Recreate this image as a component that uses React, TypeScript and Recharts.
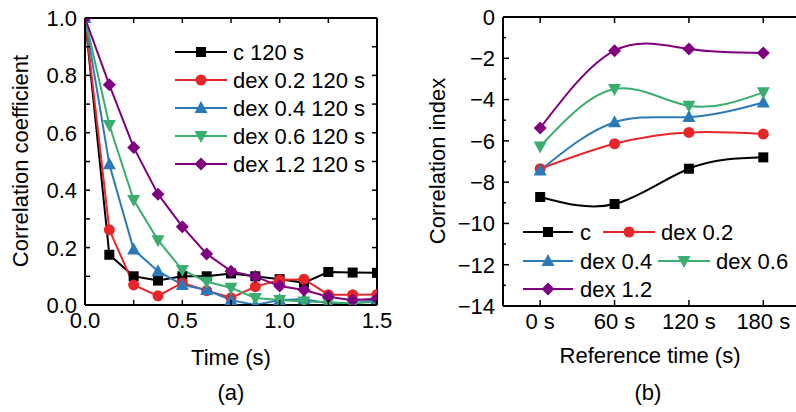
import React from "react";
import { LineChart, Line, XAxis, YAxis } from "recharts";

const FONT = "'Liberation Sans', Arial, Helvetica, sans-serif";

// (a) correlation coefficient vs time, 120 s reference
const times = [0, 0.125, 0.25, 0.375, 0.5, 0.625, 0.75, 0.875, 1.0, 1.125, 1.25, 1.375, 1.5];
const c120 = [1.0, 0.175, 0.1, 0.085, 0.1, 0.1, 0.11, 0.1, 0.09, 0.078, 0.115, 0.113, 0.112];
const dex02 = [1.0, 0.262, 0.07, 0.032, 0.077, 0.05, 0.025, 0.064, 0.087, 0.09, 0.036, 0.036, 0.037];
const dex04 = [1.0, 0.49, 0.193, 0.118, 0.07, 0.052, 0.017, 0.0, 0.017, 0.02, 0.006, 0.004, 0.02];
const dex06 = [1.0, 0.627, 0.366, 0.226, 0.122, 0.081, 0.06, 0.024, 0.017, 0.012, 0.01, 0.005, 0.012];
const dex12 = [1.0, 0.767, 0.549, 0.386, 0.273, 0.178, 0.118, 0.099, 0.066, 0.052, 0.029, 0.017, 0.022];
const xTicksA = [0, 0.25, 0.5, 0.75, 1.0, 1.25, 1.5];
const yTicksA = [0, 0.1, 0.2, 0.3, 0.4, 0.5, 0.6, 0.7, 0.8, 0.9, 1.0];

// (b) correlation index vs reference time
const refTimes = [0, 60, 120, 180];
const idxC = [-8.72, -9.06, -7.35, -6.8];
const idx02 = [-7.35, -6.14, -5.59, -5.67];
const idx04 = [-7.43, -5.1, -4.85, -4.14];
const idx06 = [-6.27, -3.49, -4.3, -3.65];
const idx12 = [-5.38, -1.63, -1.55, -1.74];
const yTicksB = [-14, -13, -12, -11, -10, -9, -8, -7, -6, -5, -4, -3, -2, -1, 0];

const series = [
  { key: "c", name: "c", color: "#000000", shape: "square" },
  { key: "d02", name: "dex 0.2", color: "#e8262a", shape: "circle" },
  { key: "d04", name: "dex 0.4", color: "#2a7ab9", shape: "up" },
  { key: "d06", name: "dex 0.6", color: "#3aae6e", shape: "down" },
  { key: "d12", name: "dex 1.2", color: "#800080", shape: "diamond" },
];

const rowsA = times.map((t, i) => ({
  t,
  c: c120[i],
  d02: dex02[i],
  d04: dex04[i],
  d06: dex06[i],
  d12: dex12[i],
}));

const rowsB = refTimes.map((rt, i) => ({
  rt,
  c: idxC[i],
  d02: idx02[i],
  d04: idx04[i],
  d06: idx06[i],
  d12: idx12[i],
}));

function Marker({ cx, cy, shape, color }: any) {
  if (cx == null || cy == null) return null;
  switch (shape) {
    case "square":
      return <rect x={cx - 5} y={cy - 5} width={10} height={10} fill={color} />;
    case "circle":
      return <circle cx={cx} cy={cy} r={5.5} fill={color} />;
    case "up":
      return <polygon points={`${cx},${cy - 7} ${cx + 6.5},${cy + 5} ${cx - 6.5},${cy + 5}`} fill={color} />;
    case "down":
      return <polygon points={`${cx},${cy + 7} ${cx + 6.5},${cy - 5} ${cx - 6.5},${cy - 5}`} fill={color} />;
    default:
      return <polygon points={`${cx},${cy - 6.5} ${cx + 6.5},${cy} ${cx},${cy + 6.5} ${cx - 6.5},${cy}`} fill={color} />;
  }
}

// inward tick marks, label drawn only when label() returns text
function BoxTick({ x = 0, y = 0, payload, side, label, len }: any) {
  const v = payload ? payload.value : 0;
  const l = len(v);
  const text = label ? label(v) : null;
  let line = null;
  if (side === "left") line = <line x1={x} x2={x + l} y1={y} y2={y} />;
  if (side === "right") line = <line x1={x} x2={x - l} y1={y} y2={y} />;
  if (side === "bottom") line = <line x1={x} x2={x} y1={y} y2={y - l} />;
  if (side === "top") line = <line x1={x} x2={x} y1={y} y2={y + l} />;
  return (
    <g stroke="#000" strokeWidth={1.5}>
      {line}
      {text != null && side === "left" && (
        <text x={x - 8} y={y} dy="0.36em" textAnchor="end" fill="#000" stroke="none" fontSize={22} fontFamily={FONT}>
          {text}
        </text>
      )}
      {text != null && side === "bottom" && (
        <text x={x} y={y + 23} textAnchor="middle" fill="#000" stroke="none" fontSize={22} fontFamily={FONT}>
          {text}
        </text>
      )}
    </g>
  );
}

const axisLine = { stroke: "#000", strokeWidth: 2 };
const isMajorA = (v: number) => Math.abs(v * 5 - Math.round(v * 5)) < 1e-6;
const isMajorAx = (v: number) => Math.abs(v * 2 - Math.round(v * 2)) < 1e-6;

function ChartA() {
  return (
    <LineChart width={400} height={412} data={rowsA} margin={{ top: 0, right: 0, bottom: 0, left: 0 }}>
      <XAxis
        xAxisId="b"
        dataKey="t"
        type="number"
        domain={[0, 1.5]}
        ticks={xTicksA}
        interval={0}
        height={107}
        tickSize={0}
        tickMargin={0}
        tickLine={false}
        axisLine={axisLine}
        allowDataOverflow
        tick={(p: any) => (
          <BoxTick {...p} side="bottom" len={() => 5} label={(v: number) => (isMajorAx(v) ? v.toFixed(1) : null)} />
        )}
      />
      <XAxis
        xAxisId="t"
        orientation="top"
        dataKey="t"
        type="number"
        domain={[0, 1.5]}
        ticks={xTicksA}
        interval={0}
        height={18}
        tickSize={0}
        tickMargin={0}
        tickLine={false}
        axisLine={axisLine}
        allowDataOverflow
        tick={(p: any) => <BoxTick {...p} side="top" len={() => 5} />}
      />
      <YAxis
        yAxisId="l"
        type="number"
        domain={[0, 1]}
        ticks={yTicksA}
        interval={0}
        width={85}
        tickSize={0}
        tickMargin={0}
        tickLine={false}
        axisLine={axisLine}
        allowDataOverflow
        tick={(p: any) => (
          <BoxTick {...p} side="left" len={() => 5} label={(v: number) => (isMajorA(v) ? v.toFixed(1) : null)} />
        )}
      />
      <YAxis
        yAxisId="r"
        orientation="right"
        type="number"
        domain={[0, 1]}
        ticks={yTicksA}
        interval={0}
        width={23}
        tickSize={0}
        tickMargin={0}
        tickLine={false}
        axisLine={axisLine}
        allowDataOverflow
        tick={(p: any) => <BoxTick {...p} side="right" len={() => 5} />}
      />
      {series.map((s) => (
        <Line
          key={s.key}
          xAxisId="b"
          yAxisId="l"
          type="linear"
          dataKey={s.key}
          stroke={s.color}
          strokeWidth={2}
          isAnimationActive={false}
          activeDot={false}
          dot={(p: any) => <Marker key={`${s.key}-${p.index}`} cx={p.cx} cy={p.cy} shape={s.shape} color={s.color} />}
        />
      ))}
    </LineChart>
  );
}

function ChartB() {
  const fmtY = (v: number) => (v % 2 === 0 ? (v < 0 ? `\u2212${-v}` : `${v}`) : null);
  const lenY = (v: number) => (v % 2 === 0 ? 6 : 3);
  return (
    <LineChart width={398} height={412} data={rowsB} margin={{ top: 0, right: 0, bottom: 0, left: 0 }}>
      <XAxis
        xAxisId="b"
        dataKey="rt"
        type="number"
        domain={[-30, 208]}
        ticks={refTimes}
        interval={0}
        height={106}
        tickSize={0}
        tickMargin={0}
        tickLine={false}
        axisLine={axisLine}
        allowDataOverflow
        tick={(p: any) => <BoxTick {...p} side="bottom" len={() => 6} label={(v: number) => `${v} s`} />}
      />
      <XAxis
        xAxisId="t"
        orientation="top"
        dataKey="rt"
        type="number"
        domain={[-30, 208]}
        ticks={refTimes}
        interval={0}
        height={17}
        tickSize={0}
        tickMargin={0}
        tickLine={false}
        axisLine={axisLine}
        allowDataOverflow
        tick={(p: any) => <BoxTick {...p} side="top" len={() => 6} />}
      />
      <YAxis
        yAxisId="l"
        type="number"
        domain={[-14, 0]}
        ticks={yTicksB}
        interval={0}
        width={103}
        tickSize={0}
        tickMargin={0}
        tickLine={false}
        axisLine={axisLine}
        allowDataOverflow
        tick={(p: any) => <BoxTick {...p} side="left" len={lenY} label={fmtY} />}
      />
      <YAxis
        yAxisId="r"
        orientation="right"
        type="number"
        domain={[-14, 0]}
        ticks={yTicksB}
        interval={0}
        width={0}
        tickSize={0}
        tickMargin={0}
        tickLine={false}
        axisLine={axisLine}
        allowDataOverflow
        tick={(p: any) => <BoxTick {...p} side="right" len={lenY} />}
      />
      {series.map((s) => (
        <Line
          key={s.key}
          xAxisId="b"
          yAxisId="l"
          type="natural"
          dataKey={s.key}
          stroke={s.color}
          strokeWidth={2}
          isAnimationActive={false}
          activeDot={false}
          dot={(p: any) => <Marker key={`${s.key}-${p.index}`} cx={p.cx} cy={p.cy} shape={s.shape} color={s.color} />}
        />
      ))}
    </LineChart>
  );
}

// legend entry positions: [lineStart, lineEnd, textX, rowY]
const legendA = series.map((s, i) => ({ s, x1: 175, x2: 227, tx: 233, y: 52 + i * 28, label: `${s.name === "c" ? "c" : s.name} 120 s` }));
const legendB = [
  { s: series[0], x1: 523, x2: 573, tx: 580, y: 232 },
  { s: series[1], x1: 603, x2: 655, tx: 661, y: 232 },
  { s: series[2], x1: 523, x2: 573, tx: 580, y: 261 },
  { s: series[3], x1: 658, x2: 710, tx: 716, y: 261 },
  { s: series[4], x1: 523, x2: 573, tx: 580, y: 289 },
].map((e) => ({ ...e, label: e.s.name }));

function Overlay() {
  const entries = [...legendA, ...legendB];
  return (
    <svg width={796} height={412} style={{ position: "absolute", left: 0, top: 0, pointerEvents: "none" }}>
      <g fontFamily={FONT} fontSize={22} fill="#000">
        {entries.map((e, i) => (
          <g key={i}>
            <line x1={e.x1} x2={e.x2} y1={e.y} y2={e.y} stroke={e.s.color} strokeWidth={2} />
            <Marker cx={(e.x1 + e.x2) / 2} cy={e.y} shape={e.s.shape} color={e.s.color} />
            <text x={e.tx} y={e.y} dy="0.36em">
              {e.label}
            </text>
          </g>
        ))}
        <text x={20} y={161} textAnchor="middle" dy="0.36em" transform="rotate(-90 20 161)">
          Correlation coefficient
        </text>
        <text x={231} y={365} textAnchor="middle">
          Time (s)
        </text>
        <text x={231} y={400} textAnchor="middle">
          (a)
        </text>
        <text x={437} y={161} textAnchor="middle" dy="0.36em" transform="rotate(-90 437 161)">
          Correlation index
        </text>
        <text x={650} y={363} textAnchor="middle">
          Reference time (s)
        </text>
        <text x={648} y={400} textAnchor="middle">
          (b)
        </text>
      </g>
    </svg>
  );
}

export default function App() {
  return (
    <div
      style={{
        position: "absolute",
        left: 0,
        top: 0,
        width: 796,
        height: 412,
        overflow: "hidden",
        background: "#fff",
        fontFamily: FONT,
      }}
    >
      <div style={{ position: "absolute", left: 0, top: 0 }}>
        <ChartA />
      </div>
      <div style={{ position: "absolute", left: 400, top: 0 }}>
        <ChartB />
      </div>
      <Overlay />
    </div>
  );
}
